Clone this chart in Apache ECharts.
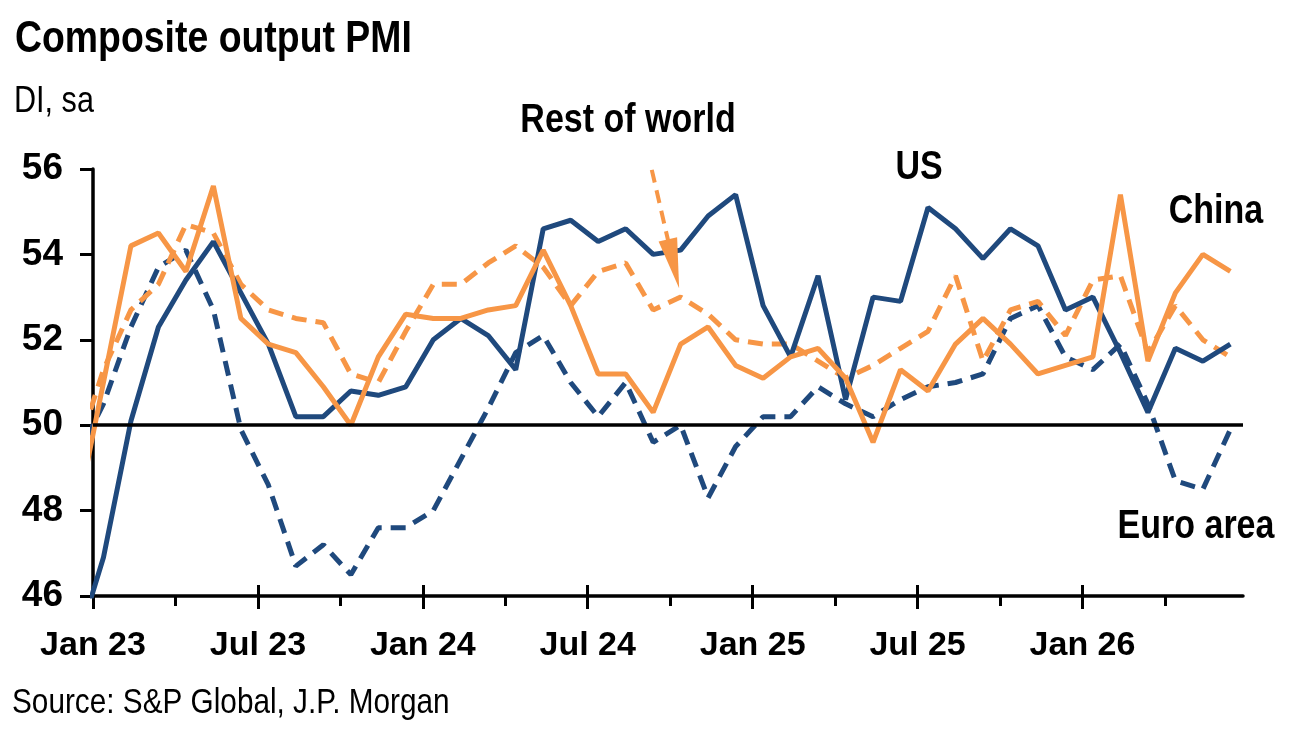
<!DOCTYPE html>
<html>
<head>
<meta charset="utf-8">
<title>Composite output PMI</title>
<script src="https://cdn.jsdelivr.net/npm/echarts@6/dist/echarts.min.js"></script>
<style>
  html, body { margin: 0; padding: 0; background: #fff; }
  #chart { width: 1295px; height: 731px; }
</style>
</head>
<body>
<div id="chart"></div>
<script>
// monthly readings, first entry is Dec 22 (runs off the axis and gets clipped), then Jan 23 .. Jun 26
const usPmi = [44.8,
  46.9, 50.1, 52.3, 53.4, 54.3, 53.1, 51.9, 50.2, 50.2, 50.8, 50.7, 50.9,
  52.0, 52.5, 52.1, 51.3, 54.6, 54.8, 54.3, 54.6, 54.0, 54.1, 54.9, 55.4,
  52.8, 51.6, 53.5, 50.6, 53.0, 52.9, 55.1, 54.6, 53.9, 54.6, 54.2, 52.7,
  53.0, 51.7, 50.3, 51.8, 51.5, 51.9];
const euroPmi = [49.2,
  50.5, 52.3, 53.7, 54.1, 52.7, 49.9, 48.6, 46.7, 47.2, 46.5, 47.6, 47.6,
  48.0, 49.2, 50.4, 51.7, 52.1, 51.0, 50.2, 51.0, 49.6, 50.0, 48.3, 49.5,
  50.2, 50.2, 50.9, 50.5, 50.2, 50.6, 50.9, 51.0, 51.2, 52.5, 52.8, 51.6,
  51.3, 51.9, 50.5, 48.7, 48.5, 49.9];
const chinaPmi = [47.8,
  51.0, 54.2, 54.5, 53.6, 55.6, 52.5, 51.9, 51.7, 50.9, 50.0, 51.6, 52.6,
  52.5, 52.5, 52.7, 52.8, 54.1, 52.8, 51.2, 51.2, 50.3, 51.9, 52.3, 51.4,
  51.1, 51.6, 51.8, 51.1, 49.6, 51.3, 50.8, 51.9, 52.5, 51.9, 51.2, 51.4,
  51.6, 55.4, 51.5, 53.1, 54.0, 53.6];
const rowPmi = [49.3,
  51.3, 52.7, 53.3, 54.7, 54.5, 53.3, 52.7, 52.5, 52.4, 51.2, 51.0, 52.2,
  53.3, 53.3, 53.8, 54.2, 53.7, 52.8, 53.6, 53.8, 52.7, 53.0, 52.6, 52.0,
  51.9, 51.9, 51.5, 51.1, 51.4, 51.8, 52.2, 53.5, 51.5, 52.7, 52.9, 52.1,
  53.4, 53.5, 51.7, 52.8, 52.0, 51.6];

const tickLabels = ['Jan 23', 'Jul 23', 'Jan 24', 'Jul 24', 'Jan 25', 'Jul 25', 'Jan 26'];
const majorTicks = [0, 6, 12, 18, 24, 30, 36];
const minorTicks = [3, 9, 15, 21, 27, 33, 39];

const NAVY = '#1F497D';
const ORANGE = '#F79646';
const FONT = '"Liberation Sans", Arial, sans-serif';
const NARROW = 0.85; // squeeze free text to look like a narrow face

// months counted from Jan 23, points sit a little after the month tick
function toPoints(arr) {
  return arr.map((v, k) => [k - 1 + 0.38, v]);
}

function baseX(extra) {
  return Object.assign({
    type: 'value',
    position: 'bottom',
    gridIndex: 0,
    min: 0,
    max: 41.84,
    splitLine: { show: false },
    axisLine: { show: false },
    axisLabel: { show: false },
    axisTick: { show: false }
  }, extra);
}

function label(text, x, y, size, bold, align) {
  return {
    type: 'text',
    x: x,
    y: y,
    scaleX: NARROW,
    style: {
      text: text,
      font: (bold ? 'bold ' : '') + size + 'px ' + FONT,
      fill: '#000',
      align: align,
      verticalAlign: 'middle'
    }
  };
}

let chart = echarts.init(document.getElementById('chart'));

chart.setOption({
  animation: false,
  backgroundColor: '#fff',
  grid: { left: 93, top: 169, width: 1150, height: 427 },
  xAxis: [
    baseX({
      axisLine: { show: true, lineStyle: { color: '#000', width: 3.5 } },
      axisTick: { show: true, customValues: majorTicks, length: 13, lineStyle: { color: '#000', width: 3 } },
      axisLabel: {
        show: true,
        customValues: majorTicks,
        formatter: (v) => tickLabels[Math.round(v / 6)],
        color: '#000',
        fontFamily: FONT,
        fontWeight: 'bold',
        fontSize: 34,
        margin: 33
      }
    }),
    // minor quarter ticks
    baseX({
      axisTick: { show: true, customValues: minorTicks, length: 10, lineStyle: { color: '#000', width: 3 } }
    }),
    // upper half of the crossing major ticks
    baseX({
      axisTick: { show: true, inside: true, customValues: majorTicks, length: 11, lineStyle: { color: '#000', width: 3 } }
    })
  ],
  yAxis: {
    type: 'value',
    min: 46,
    max: 56,
    interval: 2,
    splitLine: { show: false },
    axisLine: { show: true, lineStyle: { color: '#000', width: 3.5 } },
    axisTick: { show: true, length: 13, lineStyle: { color: '#000', width: 3 } },
    axisLabel: { color: '#000', fontFamily: FONT, fontWeight: 'bold', fontSize: 37, margin: 30 }
  },
  series: [
    {
      name: 'Euro area',
      type: 'line',
      data: toPoints(euroPmi),
      showSymbol: false,
      clip: true,
      lineStyle: { color: NAVY, width: 5, type: [15, 9] },
      markLine: {
        silent: true,
        symbol: 'none',
        label: { show: false },
        lineStyle: { color: '#000', width: 3.5, type: 'solid' },
        data: [{ yAxis: 50 }]
      }
    },
    {
      name: 'Rest of world',
      type: 'line',
      data: toPoints(rowPmi),
      showSymbol: false,
      clip: true,
      lineStyle: { color: ORANGE, width: 5, type: [15, 9] },
      // pointer from the label down to the line
      markLine: {
        silent: true,
        symbol: ['none', 'triangle'],
        symbolSize: [19, 50],
        label: { show: false },
        lineStyle: { color: ORANGE, width: 4, type: [13, 8] },
        data: [[{ coord: [20.33, 55.98] }, { coord: [21.12, 53.78] }]]
      }
    },
    {
      name: 'US',
      type: 'line',
      data: toPoints(usPmi),
      showSymbol: false,
      clip: true,
      lineStyle: { color: NAVY, width: 5 }
    },
    {
      name: 'China',
      type: 'line',
      data: toPoints(chinaPmi),
      showSymbol: false,
      clip: true,
      lineStyle: { color: ORANGE, width: 5 }
    }
  ],
  graphic: [
    label('Composite output PMI', 15, 40, 44, true, 'left'),
    label('DI, sa', 14, 102, 36, false, 'left'),
    label('Rest of world', 628, 121, 40, true, 'center'),
    label('US', 919, 168, 40, true, 'center'),
    label('China', 1216, 212, 40, true, 'center'),
    label('Euro area', 1196, 527, 40, true, 'center'),
    label('Source: S&P Global, J.P. Morgan', 12, 703, 35, false, 'left')
  ]
});
</script>
</body>
</html>
